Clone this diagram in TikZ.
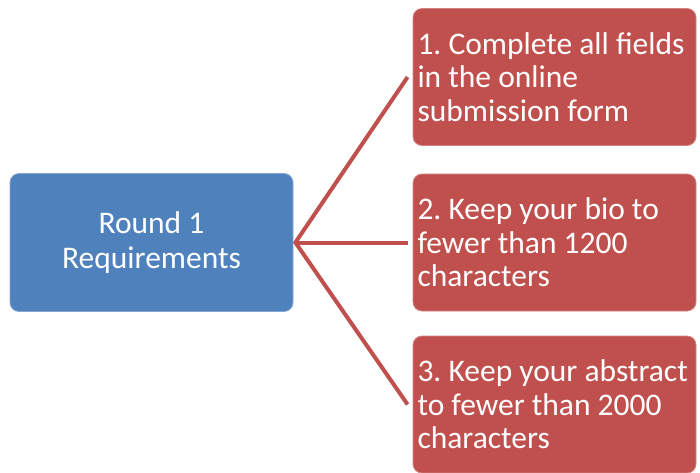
\documentclass[tikz,border=0pt]{standalone}
\usepackage{fontspec}
\setmainfont{Carlito}
\frenchspacing
\definecolor{boxblue}{HTML}{4F81BD}
\definecolor{boxred}{HTML}{C0504D}
\begin{document}
\begin{tikzpicture}[x=1pt,y=-1pt,
  mainbox/.style={draw=boxblue!70!white, line width=0.8pt, fill=boxblue, rounded corners=9pt,
    minimum width=283pt, minimum height=138pt, text=white, align=center,
    font=\fontsize{31.5}{35}\selectfont, inner sep=0pt},
  reqbox/.style={draw=boxred!70!white, line width=0.8pt, fill=boxred, rounded corners=9pt,
    minimum width=283pt, minimum height=137pt, text=white, align=flush left, text width=277pt,
    inner xsep=3pt, inner ysep=0pt, font=\fontsize{31.5}{33.5}\selectfont},
  link/.style={draw=boxred, line width=4pt}]
\useasboundingbox (0,0) rectangle (700,472);
\node[mainbox] (main) at (151.5,242.5) {Round 1\\Requirements};
\node[reqbox] (r1) at (554.5,77) {\hspace*{1.5pt}1. Complete all fields\\\hspace*{1.5pt}in the online\\\hspace*{1.5pt}submission form};
\node[reqbox] (r2) at (554.5,242.5) {\hspace*{1.5pt}2. Keep your bio to\\\hspace*{1.5pt}fewer than 1200\\\hspace*{1.5pt}characters};
\node[reqbox] (r3) at (554.5,404.5) {\hspace*{1.5pt}3. Keep your abstract\\\hspace*{1.5pt}to fewer than 2000\\\hspace*{1.5pt}characters};
\coordinate (hub) at ([xshift=2pt]main.east);
\coordinate (e1) at ([xshift=-5pt]r1.west);
\coordinate (e2) at ([xshift=-5pt]r2.west);
\coordinate (e3) at ([xshift=-5pt]r3.west);
\draw[link] (e1) -- (hub) -- (e3);
\draw[link] (hub) -- (e2);
\end{tikzpicture}
\end{document}
